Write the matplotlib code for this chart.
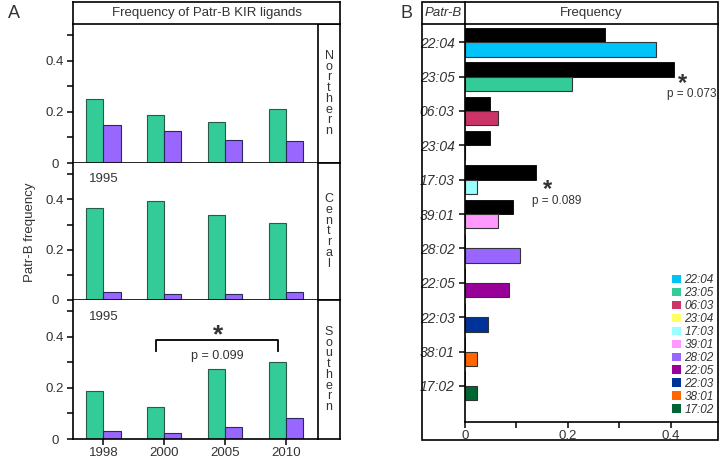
import matplotlib.pyplot as plt
from matplotlib.patches import Patch, Rectangle
from matplotlib.lines import Line2D

plt.rcParams['font.family'] = ['Liberation Sans', 'DejaVu Sans']
plt.rcParams['mathtext.fontset'] = 'custom'
plt.rcParams['mathtext.bf'] = 'Liberation Sans:bold'
plt.rcParams['mathtext.rm'] = 'Liberation Sans'

# panel A data
years = ['1998', '2000', '2005', '2010']
regions = ['Northern', 'Central', 'Southern']
green_vals = {
    'Northern': [0.25, 0.19, 0.16, 0.21],
    'Central': [0.364, 0.392, 0.34, 0.305],
    'Southern': [0.188, 0.125, 0.273, 0.30],
}
purple_vals = {
    'Northern': [0.15, 0.125, 0.09, 0.085],
    'Central': [0.03, 0.022, 0.025, 0.032],
    'Southern': [0.032, 0.024, 0.047, 0.083],
}

# panel B data
alleles = ['22:04', '23:05', '06:03', '23:04', '17:03', '39:01',
           '28:02', '22:05', '22:03', '38:01', '17:02']
black_vals = [0.272, 0.407, 0.049, 0.049, 0.138, 0.093, 0, 0, 0, 0, 0]
color_vals = [0.372, 0.208, 0.064, 0, 0.023, 0.064, 0.106, 0.085, 0.044, 0.023, 0.023]
allele_colors = ['#00C3F7', '#33CC99', '#CC3366', '#FFFF66', '#99FFFF', '#FF99FF',
                 '#9966FF', '#990099', '#003399', '#FF6600', '#006633']

GREEN = '#33CC99'
PURPLE = '#9966FF'
TXT = '#333333'
STAR = r'$\mathbf{*}$'
W, H = 722, 459

fig = plt.figure(figsize=(7.22, 4.59), dpi=100)


def box(x0, y0, x1, y1):
    # pixel coords (top-left origin) -> figure fraction
    return [x0 / W, 1 - y1 / H, (x1 - x0) / W, (y1 - y0) / H]


def frame_ax(x0, y0, x1, y1):
    a = fig.add_axes(box(x0, y0, x1, y1))
    a.set_xticks([])
    a.set_yticks([])
    for s in a.spines.values():
        s.set_linewidth(1.2)
    return a


# ---------- Panel A ----------
rows = [(24, 163), (163, 300), (300, 439)]
xs = list(range(len(years)))
bw = 0.28
for i, reg in enumerate(regions):
    y0, y1 = rows[i]
    ax = fig.add_axes(box(73, y0, 318, y1))
    ax.bar([x - bw / 2 for x in xs], green_vals[reg], bw, color=GREEN,
           edgecolor='#2a5a48', linewidth=0.8)
    ax.bar([x + bw / 2 for x in xs], purple_vals[reg], bw, color=PURPLE,
           edgecolor='#2a2a5a', linewidth=0.8)
    ax.set_xlim(-0.5, 3.52)
    ax.set_ylim(0, 0.545)
    ax.set_yticks([0, 0.2, 0.4])
    ax.set_yticklabels(['0', '0.2', '0.4'], ha='center')
    ax.set_yticks([0.1, 0.3, 0.5], minor=True)
    ax.set_xticks(xs)
    if i == 2:
        ax.set_xticklabels(years)
    else:
        ax.set_xticklabels([])
    ax.tick_params(axis='both', which='both', direction='out', colors='black',
                   labelcolor=TXT, labelsize=9.5, width=1.1)
    ax.tick_params(axis='y', which='major', length=4, pad=9)
    ax.tick_params(axis='y', which='minor', length=4)
    ax.tick_params(axis='x', length=4, pad=1.5)
    ax.spines['top'].set_visible(False)
    ax.spines['right'].set_visible(False)
    for s in ['left', 'bottom']:
        ax.spines[s].set_linewidth(1.2)
    if i > 0:
        ax.text(0.0, 0.48, '1995', ha='center', va='center', fontsize=9.5, color=TXT)

    # strip on the right
    sa = frame_ax(318, y0, 340, y1)
    sa.text(0.5, 0.5, '\n'.join(reg), transform=sa.transAxes, ha='center',
            va='center', fontsize=9, color=TXT, linespacing=0.86)

    if reg == 'Southern':
        xl = 1 - bw / 2
        xr = 3 - bw / 2
        ax.plot([xl, xl, xr, xr], [0.346, 0.389, 0.389, 0.346], color='black', lw=1.3)
        ax.text((xl + xr) / 2 + 0.02, 0.41, STAR, ha='center', va='center',
                fontsize=19, color=TXT)
        ax.text((xl + xr) / 2, 0.325, 'p = 0.099', ha='center', va='center',
                fontsize=9, color=TXT)

# header of A
ha_ax = frame_ax(73, 2, 340, 24)
ha_ax.text(0.5, 0.5, 'Frequency of Patr-B KIR ligands', transform=ha_ax.transAxes,
           ha='center', va='center', fontsize=9.5, color=TXT)

fig.text(30 / W, 1 - 232 / H, 'Patr-B frequency', rotation=90, ha='center',
         va='center', fontsize=9.5, color=TXT)
fig.text(8 / W, 1 - 14 / H, 'A', ha='left', va='center', fontsize=13, color=TXT)

# ---------- Panel B ----------
fig.add_artist(Rectangle((422 / W, 1 - 440 / H), (718 - 422) / W, (440 - 2) / H,
                         transform=fig.transFigure, fill=False, lw=1.2, color='black'))
fig.add_artist(Line2D([422 / W, 718 / W], [1 - 24 / H, 1 - 24 / H],
                      transform=fig.transFigure, lw=1.2, color='black'))
fig.add_artist(Line2D([465 / W, 465 / W], [1 - 2 / H, 1 - 24 / H],
                      transform=fig.transFigure, lw=1.2, color='black'))
fig.text(443 / W, 1 - 13 / H, 'Patr-B', style='italic', ha='center', va='center',
         fontsize=9.5, color=TXT)
fig.text(591 / W, 1 - 13 / H, 'Frequency', ha='center', va='center',
         fontsize=9.5, color=TXT)
fig.text(407 / W, 1 - 14 / H, 'B', ha='center', va='center', fontsize=13, color=TXT)

bx = fig.add_axes(box(465, 24, 718, 422))
ys = list(range(len(alleles)))
bh = 0.42
bx.barh([y - bh / 2 for y in ys], black_vals, bh, color='black', edgecolor='black', linewidth=0.6)
bx.barh([y + bh / 2 for y in ys], color_vals, bh, color=allele_colors,
        edgecolor='#333333', linewidth=0.8)
bx.set_ylim(10.5 + 0.55, -0.53)
bx.set_xlim(0, 0.492)
bx.set_yticks(ys)
bx.set_yticklabels(alleles, style='italic')
bx.set_xticks([0, 0.2, 0.4])
bx.set_xticklabels(['0', '0.2', '0.4'])
bx.set_xticks([0.1, 0.3], minor=True)
bx.tick_params(axis='both', which='both', direction='out', colors='black',
               labelcolor=TXT, labelsize=9.5, length=4, width=1.1)
bx.tick_params(axis='x', pad=1.5)
bx.tick_params(axis='y', labelsize=10)
bx.spines['top'].set_visible(False)
bx.spines['right'].set_visible(False)
for s in ['left', 'bottom']:
    bx.spines[s].set_linewidth(1.2)

# significance marks
bx.text(0.424, 1.2, STAR, ha='center', va='center', fontsize=17, color=TXT)
bx.text(0.440, 1.5, 'p = 0.073', ha='center', va='center', fontsize=8.5, color=TXT)
bx.text(0.161, 4.27, STAR, ha='center', va='center', fontsize=17, color=TXT)
bx.text(0.178, 4.63, 'p = 0.089', ha='center', va='center', fontsize=8.5, color=TXT)

handles = [Patch(facecolor=c, edgecolor='none') for c in allele_colors]
leg = bx.legend(handles, alleles, loc='lower right', bbox_to_anchor=(1.015, -0.005),
                frameon=False, fontsize=8.5, handlelength=0.75, handleheight=0.75,
                handletextpad=0.25, labelspacing=0.08, borderpad=0.2)
for t in leg.get_texts():
    t.set_style('italic')
    t.set_color(TXT)

fig.savefig('out.png', dpi=100)
